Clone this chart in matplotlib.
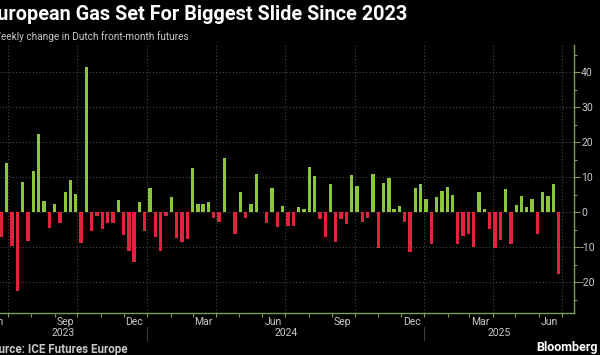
import numpy as np
import pandas as pd
import matplotlib
matplotlib.use("Agg")
import matplotlib.pyplot as plt
import matplotlib.dates as mdates
import matplotlib.transforms as mtransforms
from matplotlib.ticker import MultipleLocator

# weekly % change in Dutch front-month gas futures, one bar per week (Fridays)
first_week = "2023-06-23"
weekly_change = [
    -7.2, 14.2, -9.8, -22.5, 8.6, -8.2, 11.8, 22.5, 3.1, -4.4,
    2.4, -3.1, 5.7, 9.1, 5.3, -8.7, 41.4, -5.3, -1.0, -4.9,
    -3.0, -3.2, 3.6, -6.6, -11.2, -14.1, 3.0, -5.3, 6.8, -7.2,
    -11.0, -1.0, 4.4, -7.3, -8.5, -7.6, 12.7, 2.3, 2.4, 2.8,
    -1.6, -2.7, 15.6, 0.2, -6.2, 5.7, -1.6, 2.4, 11.0, 0.2,
    -3.2, 6.9, -4.1, 1.7, -4.0, -4.0, 1.4, 1.0, 13.0, 10.3,
    -1.8, -7.0, 8.2, -8.4, -2.0, -3.4, 10.7, 7.6, -2.7, -1.6,
    11.0, -10.1, 8.3, 9.9, 1.0, 1.7, -2.9, -11.4, 7.0, 8.1,
    3.9, -9.2, 4.3, 6.0, 7.1, 4.8, -9.0, -6.8, -6.1, -9.9,
    5.9, 0.8, -4.8, -10.3, -8.0, 6.7, -9.0, 2.0, 4.7, 1.5,
    3.8, -6.2, 5.9, 4.7, 8.0, -17.7,
]
dates = pd.date_range(first_week, periods=len(weekly_change), freq="7D")
years = [2023, 2024, 2025]

GREEN = "#8cc63f"
RED = "#e5223d"
AXIS = "#7e9a55"
GRID = "#4a4a4a"
TEXT = "#c9c9c9"

plt.rcParams["font.family"] = ["Roboto", "DejaVu Sans"]
plt.rcParams["axes.unicode_minus"] = False

W, H = 600, 355
fig = plt.figure(figsize=(W / 100, H / 100), dpi=100, facecolor="black")

# the original is cropped on the left, so the axes start off-canvas
left_px, right_px, top_px, bottom_px = -20, 574.3, 45, 313.3
ax = fig.add_axes([left_px / W, 1 - bottom_px / H,
                   (right_px - left_px) / W, (bottom_px - top_px) / H])
ax.set_facecolor("black")

vals = np.array(weekly_change)
x = mdates.date2num(dates)
ax.bar(x, vals, width=4.4, color=np.where(vals >= 0, GREEN, RED), zorder=3)

px_per_day = 0.758
anchor = mdates.date2num(pd.Timestamp("2023-06-21"))
ax.set_xlim(anchor + left_px / px_per_day, anchor + right_px / px_per_day)
ax.set_ylim(-28.9, 47.8)
lo, hi = ax.get_xlim()

# x axis: month labels mid-quarter-end-month, ticks at each month start
ax.xaxis.set_major_locator(mdates.MonthLocator(bymonth=[3, 6, 9, 12], bymonthday=15))
ax.xaxis.set_major_formatter(mdates.DateFormatter("%b"))
ax.xaxis.set_minor_locator(mdates.MonthLocator())
ax.tick_params(axis="x", which="major", length=0, pad=3, labelsize=7.5, labelcolor=TEXT)
ax.tick_params(axis="x", which="minor", length=3, width=0.8, color=AXIS)

# vertical dotted grid at quarter starts
quarters = mdates.MonthLocator(bymonth=[1, 4, 7, 10]).tick_values(mdates.num2date(lo), mdates.num2date(hi))
for q in quarters:
    if lo < q < hi:
        ax.axvline(q, color=GRID, lw=0.8, ls=(0, (1, 2)), zorder=1)

# y axis on the right
ax.yaxis.tick_right()
ax.yaxis.set_major_locator(MultipleLocator(10))
ax.yaxis.set_minor_locator(MultipleLocator(5))
ax.tick_params(axis="y", which="major", length=4, width=0.8, color=AXIS,
               labelcolor=TEXT, labelsize=7.5, pad=1)
ax.tick_params(axis="y", which="minor", length=2.5, width=0.8, color=AXIS)
ax.yaxis.grid(True, which="major", color=GRID, lw=0.8, ls=(0, (1, 2)), zorder=1)

for side in ["left", "top"]:
    ax.spines[side].set_visible(False)
for side in ["right", "bottom"]:
    ax.spines[side].set_color(AXIS)
    ax.spines[side].set_linewidth(1.0)

# year labels centred on the visible part of each year, with separators
trans = mtransforms.blended_transform_factory(ax.transData, ax.transAxes)
for yr in years:
    start = max(lo, mdates.date2num(pd.Timestamp(f"{yr}-01-01")))
    end = min(hi, mdates.date2num(pd.Timestamp(f"{yr + 1}-01-01")))
    ax.text((start + end) / 2, -0.075, str(yr), transform=trans, ha="center",
            va="center", color=TEXT, fontsize=7.5)
    jan = mdates.date2num(pd.Timestamp(f"{yr}-01-01"))
    if lo < jan < hi:
        ax.plot([jan, jan], [-0.05, -0.1], transform=trans, color="#3c3c3c",
                lw=0.8, clip_on=False)

fig.text(-14 / W, 1 - 19.5 / H, "European Gas Set For Biggest Slide Since 2023",
         color="white", fontsize=14.3, fontweight="bold", va="baseline")
fig.text(-8 / W, 1 - 40 / H, "Weekly change in Dutch front-month futures",
         color=TEXT, fontsize=7.2, va="baseline")
fig.text(-15 / W, 1 - 352.5 / H, "Source: ICE Futures Europe",
         color=TEXT, fontsize=8.4, fontweight="bold", va="baseline")
fig.text(598 / W, 1 - 351 / H, "Bloomberg",
         color="white", fontsize=9, fontweight="bold", va="baseline", ha="right")

fig.savefig("out.png", dpi=100, facecolor="black")
